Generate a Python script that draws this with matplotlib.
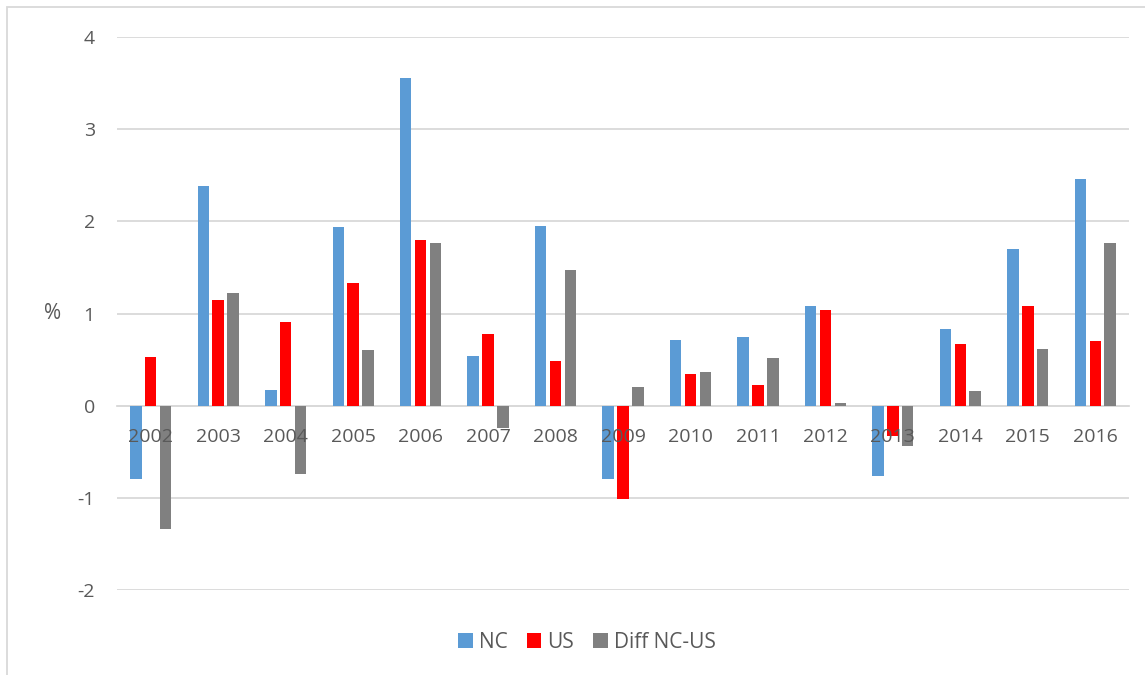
import numpy as np
import matplotlib.pyplot as plt
from matplotlib.patches import Rectangle

years = ['2002', '2003', '2004', '2005', '2006', '2007', '2008', '2009',
         '2010', '2011', '2012', '2013', '2014', '2015', '2016']
nc = [-0.80, 2.38, 0.17, 1.94, 3.56, 0.54, 1.95, -0.80,
      0.71, 0.74, 1.08, -0.76, 0.83, 1.70, 2.46]
us = [0.53, 1.15, 0.91, 1.33, 1.80, 0.78, 0.48, -1.01,
      0.34, 0.22, 1.04, -0.33, 0.67, 1.08, 0.70]
diff = [-1.34, 1.22, -0.74, 0.60, 1.76, -0.24, 1.47, 0.20,
        0.36, 0.52, 0.03, -0.44, 0.16, 0.62, 1.76]

plt.rcParams['font.family'] = ['Open Sans', 'DejaVu Sans']
plt.rcParams['axes.unicode_minus'] = False
txt = '#595959'
grid = '#d9d9d9'

fig = plt.figure(figsize=(11.45, 6.75), dpi=100)
ax = fig.add_axes([117 / 1145, 1 - 590 / 675, 1012 / 1145, 553 / 675])

# outer chart border
fig.patches.append(Rectangle((7 / 1145, -0.1), 1.2, 1 - 7 / 675 + 0.1,
                             transform=fig.transFigure, fill=False,
                             edgecolor=grid, linewidth=1.3))

x = np.arange(len(years))
w = 0.17
step = 0.22
ax.bar(x - step, nc, w, color='#5b9bd5', label='NC', zorder=3)
ax.bar(x, us, w, color='#ff0000', label='US', zorder=3)
ax.bar(x + step, diff, w, color='#808080', label='Diff NC-US', zorder=3)

ax.set_xlim(-0.5, len(years) - 0.5)
ax.set_ylim(-2, 4)
ax.set_yticks(range(-2, 5))
ax.grid(axis='y', color=grid, linewidth=1.3, zorder=0)

ax.set_xticks(x)
ax.set_xticklabels(years)
for s in ['top', 'right', 'left']:
    ax.spines[s].set_visible(False)
ax.spines['bottom'].set_position(('data', 0))
ax.spines['bottom'].set_color(grid)
ax.spines['bottom'].set_linewidth(1.3)
ax.spines['bottom'].set_zorder(2)
# year labels sit on top of the bars, like the original
ax.xaxis.set_zorder(4)
ax.tick_params(axis='x', length=0, pad=16, labelsize=14, labelcolor=txt)
ax.tick_params(axis='y', length=0, pad=16, labelsize=14, labelcolor=txt)

ax.set_ylabel('%', rotation=0, fontsize=15, color=txt, va='center')
ax.yaxis.set_label_coords(-0.064, 0.5)

fig.legend(loc='center', bbox_to_anchor=(587 / 1145, 1 - 642 / 675), ncol=3,
           frameon=False, fontsize=15, labelcolor=txt, handlelength=0.7,
           handleheight=0.7, handletextpad=0.3, columnspacing=0.9)

fig.savefig('out.png')
